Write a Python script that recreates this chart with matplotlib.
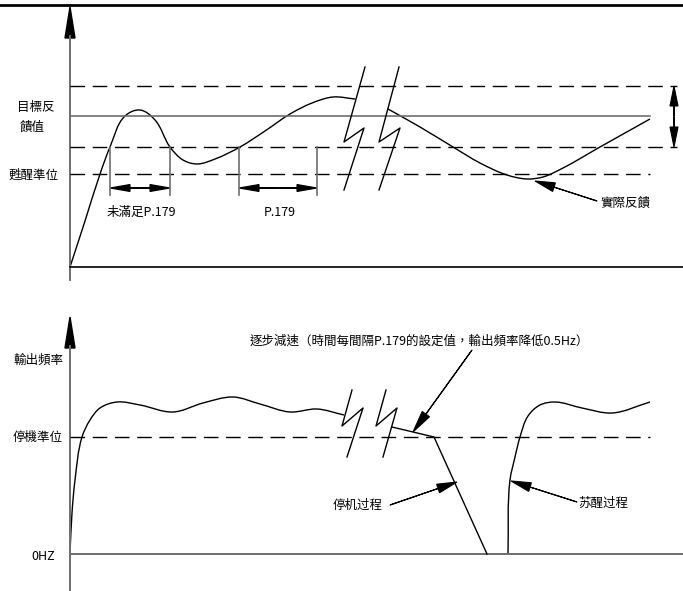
import numpy as np
import matplotlib
matplotlib.use('Agg')
import matplotlib.pyplot as plt
from matplotlib.path import Path
from matplotlib.patches import PathPatch

plt.rcParams['font.family'] = ['Noto Sans CJK TC', 'DejaVu Sans']

# everything below is in pixel coords of the sketch (y goes down)
# level lines
upper_lim = 86
target = 116
lower_lim = 147
wake_level = 174
top_zero = 267
stop_level = 437
bot_zero = 554

# feedback curve, before and after the break
fb1_x = [70, 85, 100, 110, 125, 140, 155, 170, 183, 197, 215, 240, 265, 290, 312, 333, 355]
fb1_y = [267, 221, 174, 147, 116, 110, 120, 147, 160, 164, 159, 147, 131, 114, 103, 97, 99]
fb2_x = [388, 420, 453, 480, 507, 527, 543, 563, 600, 650]
fb2_y = [109, 127, 147, 163, 175, 179, 177, 168, 147, 119]

# output frequency
out1_x = [70, 72, 75, 82, 90, 100, 117, 140, 173, 203, 233, 260, 290, 317, 344]
out1_y = [553, 513, 480, 437, 420, 408, 402, 405, 412, 403, 397, 404, 412, 409, 415]
stop_x = [392, 434, 487]
stop_y = [427, 437, 554]
wake_x = [508, 510, 515, 520, 528, 540, 555, 582, 612, 650]
wake_y = [554, 480, 457, 437, 416, 405, 402, 408, 413, 402]

# break marks (zig-zag)
brk_top_x = [[365, 344, 364, 344], [399, 379, 400, 379]]
brk_top_y = [67, 142, 128, 190]
brk_bot_x = [[352, 342, 363, 347], [386, 376, 397, 383]]
brk_bot_y = [390, 426, 408, 457]

# P.179 timing marks
mark_x = [110, 170, 239, 317]
mark_y = 188


def smooth(xs, ys):
    # chord-length hermite through the points -> cubic bezier path
    p = np.column_stack([xs, ys]).astype(float)
    n = len(p)
    d = np.linalg.norm(np.diff(p, axis=0), axis=1)
    tan = np.zeros_like(p)
    for i in range(n):
        if i == 0:
            t = p[1] - p[0]
        elif i == n - 1:
            t = p[-1] - p[-2]
        else:
            t = (p[i + 1] - p[i]) / d[i] + (p[i] - p[i - 1]) / d[i - 1]
        tan[i] = t / np.linalg.norm(t)
    verts = [p[0]]
    codes = [Path.MOVETO]
    for i in range(n - 1):
        verts += [p[i] + tan[i] * d[i] / 3, p[i + 1] - tan[i + 1] * d[i] / 3, p[i + 1]]
        codes += [Path.CURVE4] * 3
    return Path(verts, codes)


def arrow(ax, x0, y0, x1, y1, hl=20, hw=8):
    ax.arrow(x0, y0, x1 - x0, y1 - y0, length_includes_head=True,
             head_length=hl, head_width=hw, fc='k', ec='k', lw=0.8)


fig = plt.figure(figsize=(6.83, 5.91), dpi=100)
ax = fig.add_axes([0, 0, 1, 1])
ax.set_xlim(0, 683)
ax.set_ylim(591, 0)
ax.set_axis_off()

axis_c = '#6e6e6e'
dash = (0, (10.5, 5.5))

# top border
ax.plot([0, 683], [5, 5], color='k', lw=2)

# ---- top panel ----
ax.plot([70, 70], [36, 280], color=axis_c, lw=1.4)
ax.fill([65, 75, 70], [38, 38, 7], color='k')
ax.plot([70, 683], [top_zero, top_zero], color='k', lw=1.2)
ax.plot([70, 677], [upper_lim, upper_lim], color='k', lw=1, ls=dash)
ax.plot([70, 650], [target, target], color=axis_c, lw=1.2)
ax.plot([70, 677], [lower_lim, lower_lim], color='k', lw=1, ls=dash)
ax.plot([70, 650], [wake_level, wake_level], color='k', lw=1, ls=dash)

ax.add_patch(PathPatch(smooth(fb1_x, fb1_y), fc='none', ec='k', lw=1))
ax.add_patch(PathPatch(smooth(fb2_x, fb2_y), fc='none', ec='k', lw=1))
for bx in brk_top_x:
    ax.plot(bx, brk_top_y, color='k', lw=1)

for mx in mark_x:
    ax.plot([mx, mx], [lower_lim, 195], color=axis_c, lw=1.2)
for a, b in [(mark_x[0], mark_x[1]), (mark_x[2], mark_x[3])]:
    mid = (a + b) / 2
    arrow(ax, mid, mark_y, a, mark_y, hl=20, hw=7)
    arrow(ax, mid, mark_y, b, mark_y, hl=20, hw=7)

arrow(ax, 674, (upper_lim + lower_lim) / 2, 674, upper_lim, hl=20, hw=8)
arrow(ax, 674, (upper_lim + lower_lim) / 2, 674, lower_lim, hl=20, hw=8)
arrow(ax, 597, 201, 535, 181, hl=20, hw=9)

fs = 9
ax.text(17, 108, '目標反', fontsize=fs, va='center', ha='left')
ax.text(20, 127, '饋值', fontsize=fs, va='center', ha='left')
ax.text(8, 175, '甦醒準位', fontsize=fs, va='center', ha='left')
ax.text(141, 212, '未滿足P.179', fontsize=fs, va='center', ha='center')
ax.text(280, 212, 'P.179', fontsize=fs, va='center', ha='center')
ax.text(600, 203, '實際反饋', fontsize=fs, va='center', ha='left')

# ---- bottom panel ----
ax.plot([70, 70], [346, 591], color=axis_c, lw=1.4)
ax.fill([65, 75, 70], [348, 348, 317], color='k')
ax.plot([70, 683], [bot_zero, bot_zero], color=axis_c, lw=1.4)
ax.plot([70, 650], [stop_level, stop_level], color='k', lw=1, ls=dash)

ax.add_patch(PathPatch(smooth(out1_x, out1_y), fc='none', ec='k', lw=1))
ax.plot(stop_x, stop_y, color='k', lw=1)
ax.add_patch(PathPatch(smooth(wake_x, wake_y), fc='none', ec='k', lw=1))
for bx in brk_bot_x:
    ax.plot(bx, brk_bot_y, color='k', lw=1)

arrow(ax, 472, 350, 413, 432, hl=22, hw=9)
arrow(ax, 390, 505, 457, 482, hl=20, hw=9)
arrow(ax, 577, 502, 511, 481, hl=20, hw=9)

ax.text(13, 360, '輸出頻率', fontsize=fs, va='center', ha='left')
ax.text(13, 437, '停機準位', fontsize=fs, va='center', ha='left')
ax.text(43, 556, '0HZ', fontsize=fs, va='center', ha='center')
ax.text(250, 341, '逐步減速（時間每間隔P.179的設定值，輸出頻率降低0.5Hz）',
        fontsize=fs, va='center', ha='left')
ax.text(333, 505, '停机过程', fontsize=fs, va='center', ha='left')
ax.text(578, 503, '苏醒过程', fontsize=fs, va='center', ha='left')

fig.savefig('out.png', dpi=100)
